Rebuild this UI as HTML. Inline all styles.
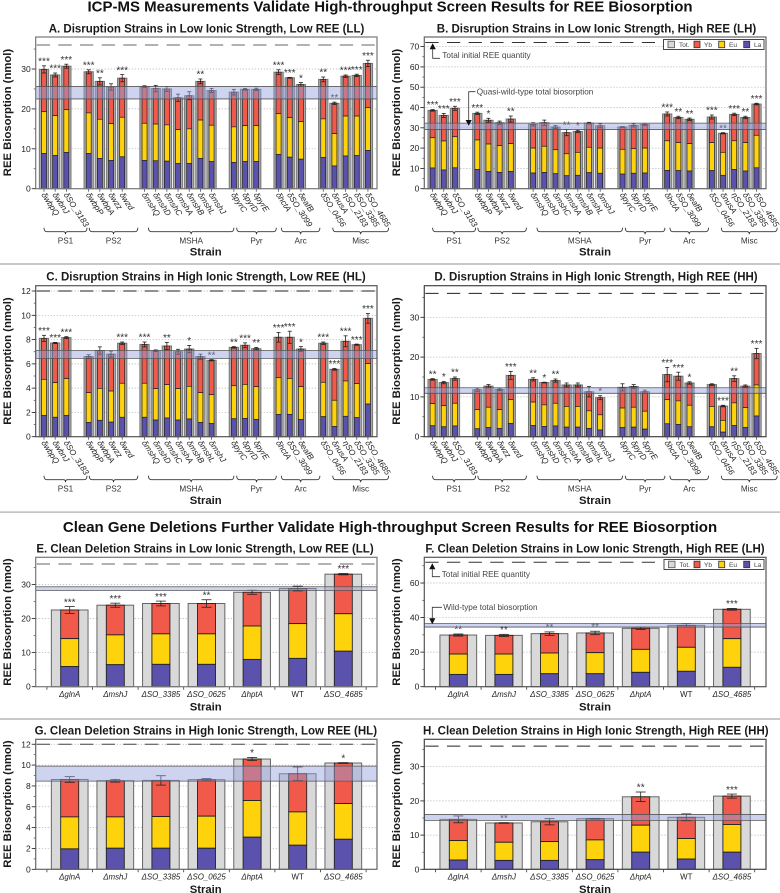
<!DOCTYPE html>
<html lang="en">
<head>
<meta charset="utf-8">
<title>ICP-MS REE Biosorption Panels</title>
<style>
html,body{margin:0;padding:0;background:#fff;width:780px;height:893px;overflow:hidden}
svg{display:block;font-family:"Liberation Sans",Arial,sans-serif}
.main{font-size:15px;font-weight:700;fill:#111;text-anchor:middle}
.ptitle{font-size:11.5px;font-weight:700;fill:#1a1a1a;text-anchor:middle}
.ytitle{font-size:11.3px;font-weight:700;fill:#1a1a1a;text-anchor:middle}
.xtitle{font-size:11.3px;font-weight:700;fill:#1a1a1a;text-anchor:middle}
.note{font-size:8.2px;fill:#444}
.leg{font-size:6.5px;fill:#444}
</style>
</head>
<body>
<svg id="figure" width="780" height="893" viewBox="0 0 780 893" xmlns="http://www.w3.org/2000/svg">
  <text class="main" x="390" y="11.3">ICP-MS Measurements Validate High-throughput Screen Results for REE Biosorption</text>
  <text class="main" x="390" y="532">Clean Gene Deletions Further Validate High-throughput Screen Results for REE Biosorption</text>
  <rect x="0" y="263" width="780" height="2" fill="#c8c8c8"/>
  <rect x="0" y="511.5" width="780" height="1.2" fill="#aaa"/>
  <rect x="0" y="718" width="780" height="2" fill="#c8c8c8"/>

  <g id="panel-a">
    <text class="ptitle" x="206.5" y="32.3">A. Disruption Strains in Low Ionic Strength, Low REE (LL)</text>
    <text class="ytitle" transform="translate(10.8,112.5) rotate(-90)">REE Biosorption (nmol)</text>
    <text class="xtitle" x="205.7" y="255.5">Strain</text>
  </g>
  <g id="panel-b">
    <text class="ptitle" x="596.5" y="32.3">B. Disruption Strains in Low Ionic Strength, High REE (LH)</text>
    <text class="ytitle" transform="translate(399.8,112.5) rotate(-90)">REE Biosorption (nmol)</text>
    <text class="xtitle" x="595" y="255.5">Strain</text>
  </g>
  <g id="panel-c">
    <text class="ptitle" x="206" y="280.7">C. Disruption Strains in High Ionic Strength, Low REE (HL)</text>
    <text class="ytitle" transform="translate(10.8,361) rotate(-90)">REE Biosorption (nmol)</text>
    <text class="xtitle" x="205.7" y="504">Strain</text>
  </g>
  <g id="panel-d">
    <text class="ptitle" x="596" y="280.7">D. Disruption Strains in High Ionic Strength, High REE (HH)</text>
    <text class="ytitle" transform="translate(399.8,361) rotate(-90)">REE Biosorption (nmol)</text>
    <text class="xtitle" x="595" y="504">Strain</text>
  </g>
  <g id="panel-e">
    <text class="ptitle" x="205" y="552.3">E. Clean Deletion Strains in Low Ionic Strength, Low REE (LL)</text>
    <text class="ytitle" transform="translate(10.8,622) rotate(-90)">REE Biosorption (nmol)</text>
    <text class="xtitle" x="205.7" y="710.7">Strain</text>
  </g>
  <g id="panel-f">
    <text class="ptitle" x="595" y="552.3">F. Clean Deletion Strains in Low Ionic Strength, High REE (LH)</text>
    <text class="ytitle" transform="translate(399.8,622) rotate(-90)">REE Biosorption (nmol)</text>
    <text class="xtitle" x="595" y="710.7">Strain</text>
  </g>
  <g id="panel-g">
    <text class="ptitle" x="205.8" y="734.7">G. Clean Deletion Strains in High Ionic Strength, Low REE (HL)</text>
    <text class="ytitle" transform="translate(10.8,804) rotate(-90)">REE Biosorption (nmol)</text>
    <text class="xtitle" x="205.7" y="893">Strain</text>
  </g>
  <g id="panel-h">
    <text class="ptitle" x="595.8" y="734.7">H. Clean Deletion Strains in High Ionic Strength, High REE (HH)</text>
    <text class="ytitle" transform="translate(399.8,804) rotate(-90)">REE Biosorption (nmol)</text>
    <text class="xtitle" x="595" y="893">Strain</text>
  </g>

  <g id="annotations">
    <g>
      <rect x="663.5" y="39.5" width="100.5" height="10" fill="#fff" stroke="#333" stroke-width="0.9"/>
      <rect x="668" y="41.2" width="6.5" height="6.5" fill="#d9d9d9" stroke="#555" stroke-width="0.8"/>
      <text class="leg" x="679" y="46.8">Tot.</text>
      <rect x="694" y="41.2" width="6" height="6.5" fill="#f15a4a" stroke="#333" stroke-width="0.8"/>
      <text class="leg" x="704" y="46.8">Yb</text>
      <rect x="718.7" y="41.2" width="6" height="6.5" fill="#ffd30c" stroke="#333" stroke-width="0.8"/>
      <text class="leg" x="729" y="46.8">Eu</text>
      <rect x="743.7" y="41.2" width="6" height="6.5" fill="#5b52ad" stroke="#333" stroke-width="0.8"/>
      <text class="leg" x="754" y="46.8">La</text>
    </g>
    <g>
      <rect x="664" y="559.5" width="100" height="10" fill="#fff" stroke="#333" stroke-width="0.9"/>
      <rect x="668.5" y="561.2" width="6.5" height="6.5" fill="#d9d9d9" stroke="#555" stroke-width="0.8"/>
      <text class="leg" x="679.5" y="566.8">Tot.</text>
      <rect x="694" y="561.2" width="6" height="6.5" fill="#f15a4a" stroke="#333" stroke-width="0.8"/>
      <text class="leg" x="704" y="566.8">Yb</text>
      <rect x="718.7" y="561.2" width="6" height="6.5" fill="#ffd30c" stroke="#333" stroke-width="0.8"/>
      <text class="leg" x="729" y="566.8">Eu</text>
      <rect x="743.7" y="561.2" width="6" height="6.5" fill="#5b52ad" stroke="#333" stroke-width="0.8"/>
      <text class="leg" x="754" y="566.8">La</text>
    </g>
    <polygon points="432.7,43.3 429.6,49.2 435.8,49.2" fill="#111"/>
    <polyline points="432.7,49 432.7,58.3 440,58.3" fill="none" stroke="#333" stroke-width="0.8"/>
    <text class="note" x="442.3" y="58">Total initial REE quantity</text>
    <polyline points="475.5,91.7 468.7,91.7 468.7,120.5" fill="none" stroke="#333" stroke-width="0.8"/>
    <polygon points="468.7,125.8 465.6,120 471.8,120" fill="#111"/>
    <text class="note" x="476.8" y="94.6">Quasi-wild-type total biosorption</text>
    <polygon points="432.3,563.3 429.2,569.2 435.4,569.2" fill="#111"/>
    <polyline points="432.3,569 432.3,576.7 440,576.7" fill="none" stroke="#333" stroke-width="0.8"/>
    <text class="note" x="441.7" y="577">Total initial REE quantity</text>
    <polyline points="442,607.3 432.3,607.3 432.3,618.8" fill="none" stroke="#333" stroke-width="0.8"/>
    <polygon points="432.3,624.2 429.2,618.3 435.4,618.3" fill="#111"/>
    <text class="note" x="443.3" y="610.2">Wild-type total biosorption</text>
  </g>
</svg>

<script>
// ---------- Categories ----------
const groupNames = ['PS1', 'PS2', 'MSHA', 'Pyr', 'Arc', 'Misc'];
const groupSizes = [3, 4, 7, 3, 3, 5];
const strainLabels = ['δwbpQ','δwbnJ','δSO_3183','δwbpP','δwbpA','δwzz','δwzd','δmshQ','δmshD','δmshC','δmshA','δmshB','δmshL','δmshJ','δpyrC','δpyrD','δpyrE','δhctA','δSO_3099','δeafB','δSO_0456','δnusA','ηSO_2183','δSO_3385','δSO_4685'];
const cleanLabels = ['ΔglnA','ΔmshJ','ΔSO_3385','ΔSO_0625','ΔhptA','WT','ΔSO_4685'];

// ---------- Panel A (LL) ----------
const laA = [8.85,8.35,9.1,8.8,7.6,7.1,8.0,7.1,7.0,6.9,6.3,6.35,7.6,6.8,6.6,6.85,6.85,8.6,7.9,7.4,7.85,5.7,8.2,8.3,9.6];
const laEuA = [19.3,18.3,19.8,19.0,17.4,16.3,17.9,16.4,16.2,16.0,14.8,15.0,17.2,15.9,15.5,15.8,15.8,18.8,17.8,16.8,17.5,13.8,18.2,18.2,20.3];
const totalA = [29.9,28.5,30.7,29.3,26.9,25.5,27.7,25.6,25.1,25.0,22.8,23.3,26.9,24.6,24.2,24.9,24.9,29.2,27.8,26.1,27.4,21.4,28.2,28.4,31.4];
const errA = [0.9,0.5,0.5,0.5,0.9,0.8,0.9,0.2,0.8,0.6,0.9,1.0,0.6,0.5,0.7,0.2,0.3,0.6,0.1,0.5,0.6,0.3,0.3,0.3,0.8];
const starsA = ['***','***','***','***','**','','***','','','','','','**','','','','','***','***','*','**','**','***','***','***'];
const bandA = [22.5, 25.6];
const yTicksA = [0, 10, 20, 30];

// ---------- Panel B (LH) ----------
const laB = [10.2,9.2,10.3,9.5,8.5,8.0,8.5,7.7,8.0,7.4,6.4,6.6,7.9,7.6,7.2,7.6,7.7,9.0,8.9,8.7,8.9,6.6,9.5,8.7,10.3];
const laEuB = [25.1,23.5,25.6,24.0,22.0,21.2,22.2,20.0,20.9,19.2,17.2,17.9,20.4,20.0,19.4,19.7,20.0,23.6,22.7,22.2,22.7,17.9,23.6,22.7,26.3];
const totalB = [38.6,36.1,39.6,37.1,33.7,32.5,34.3,31.7,32.5,30.4,27.6,28.2,32.3,31.0,30.4,31.2,31.7,36.8,35.1,34.2,35.3,27.3,36.6,35.1,41.7];
const errB = [0.4,1.0,1.0,0.6,1.0,0.8,1.5,0.8,1.3,0.7,1.5,0.6,0.4,1.0,0.2,0.8,0.5,1.0,0.6,0.6,1.0,0.3,0.6,0.6,0.4];
const starsB = ['***','***','***','***','*','','**','','','','**','*','','','','','','***','**','**','***','**','***','**','***'];
const bandB = [29.2, 32.3];
const yTicksB = [0, 10, 20, 30, 40, 50, 60, 70];

// ---------- Panel C (HL) ----------
const laC = [1.76,1.6,1.76,1.18,1.35,1.2,1.6,1.6,1.37,1.54,1.37,1.46,1.18,1.1,1.48,1.51,1.43,1.84,1.84,1.43,1.65,0.85,1.68,1.57,2.69];
const laEuC = [4.72,4.45,4.78,3.63,3.98,3.76,4.4,4.4,3.96,4.29,3.96,4.15,3.63,3.46,4.2,4.31,4.12,4.86,4.8,4.12,4.48,3.0,4.59,4.37,6.02];
const totalC = [8.1,7.72,8.16,6.6,7.1,6.8,7.7,7.6,7.08,7.47,7.0,7.22,6.6,6.3,7.36,7.53,7.25,8.19,8.19,7.22,7.7,5.55,7.86,7.58,9.75];
const errC = [0.25,0.05,0.08,0.15,0.3,0.25,0.1,0.2,0.07,0.3,0.2,0.3,0.2,0.05,0.06,0.2,0.1,0.4,0.5,0.2,0.1,0.07,0.45,0.05,0.4];
const starsC = ['***','***','***','','','','***','***','','**','','*','','**','**','***','**','***','***','*','***','***','***','***','***'];
const bandC = [6.45, 7.1];
const yTicksC = [0, 2, 4, 6, 8, 10, 12];

// ---------- Panel D (HH) ----------
const laD = [2.76,2.5,2.7,2.0,2.3,2.1,3.35,2.85,2.6,2.7,2.4,2.4,2.1,1.7,2.35,2.4,1.9,3.25,3.1,2.5,2.5,1.15,2.85,2.3,5.2];
const laEuD = [8.3,7.8,8.4,6.8,7.4,6.8,9.3,8.7,8.0,8.4,7.6,7.6,6.5,5.5,7.2,7.4,6.4,9.3,9.0,7.9,7.6,4.1,8.5,7.3,13.0];
const totalD = [14.4,13.6,14.6,11.8,12.7,11.9,15.4,14.4,13.6,14.1,13.0,13.0,11.3,9.8,12.4,12.6,11.3,15.6,15.2,13.5,13.1,7.7,14.6,12.7,20.9];
const errD = [0.2,0.3,0.4,0.4,0.4,0.3,1.0,0.4,0.1,0.4,0.5,0.5,1.3,0.5,0.9,0.5,0.4,1.8,1.0,0.3,0.2,0.2,0.7,0.3,1.3];
const starsD = ['**','*','**','','','','***','**','*','**','','','','*','','','','***','***','*','','***','**','','***'];
const bandD = [10.9, 12.3];
const yTicksD = [0, 10, 20, 30];

// ---------- Panel E (clean LL) ----------
const laE = [5.9,6.45,6.55,6.55,8.0,8.3,10.4];
const laEuE = [14.1,15.2,15.5,15.5,17.8,18.5,21.4];
const totalE = [22.5,23.9,24.4,24.4,27.7,28.8,33.0];
const errE = [1.0,0.6,0.7,1.1,0.6,0.7,0.2];
const starsE = ['***','***','***','**','','','***'];
const bandE = [28.25, 29.3];
const yTicksE = [0, 10, 20, 30];

// ---------- Panel F (clean LH) ----------
const laF = [7.1,7.1,7.5,7.5,8.3,8.9,11.2];
const laEuF = [18.9,18.9,19.5,19.7,21.6,22.8,27.8];
const totalF = [29.9,29.7,30.7,31.1,33.8,35.5,44.8];
const errF = [0.6,0.6,1.0,1.0,0.7,1.0,0.5];
const starsF = ['**','**','**','**','','','***'];
const bandF = [34.5, 36.5];
const yTicksF = [0, 20, 40, 60];

// ---------- Panel G (clean HL) ----------
const laG = [1.96,2.02,2.02,2.02,3.08,2.31,2.88];
const laEuG = [5.03,5.03,5.06,5.1,6.6,5.51,6.31];
const totalG = [8.62,8.5,8.53,8.6,10.58,9.17,10.2];
const errG = [0.27,0.13,0.45,0.1,0.15,0.65,0.04];
const starsG = ['','','','','*','','*'];
const bandG = [8.46, 9.9];
const yTicksG = [0, 2, 4, 6, 8, 10, 12];

// ---------- Panel H (clean HH) ----------
const laH = [2.7,2.6,2.6,2.8,5.0,3.0,5.0];
const laEuH = [8.4,7.9,8.1,8.6,12.9,9.0,13.1];
const totalH = [14.6,13.55,13.9,14.8,21.2,15.2,21.4];
const errH = [1.0,0.1,0.9,0.1,1.4,1.0,0.6];
const starsH = ['','**','','','**','','***'];
const bandH = [14.3, 16.0];
const yTicksH = [0, 10, 20, 30];

// ---------- Initial quantity ----------
const initialA = 36;
const initialB = 72;
const initialC = 12;
const initialD = 36;
const initialE = 36;
const initialF = 72;
const initialG = 12;
const initialH = 36;

// ---------- Drawing ----------
const NS = 'http://www.w3.org/2000/svg';
const COLORS = {la: '#5b52ad', eu: '#ffd30c', yb: '#f15a4a', total: '#d9d9d9'};

function mk(parent, tag, attrs, text) {
  const el = document.createElementNS(NS, tag);
  for (const k in attrs) el.setAttribute(k, attrs[k]);
  if (text !== undefined) el.textContent = text;
  parent.appendChild(el);
  return el;
}

function drawFrameAndAxes(g, p, y) {
  const grid = mk(g, 'g', {});
  
  
  p.yTicks.forEach(function (t) {
    if (t === 0) return;
    const ln = mk(grid, 'line', {x1: p.left, x2: p.right, y1: y(t), y2: y(t), stroke: '#aaa', 'stroke-width': 0.7, 'stroke-dasharray': '1.2 1.8'});
    
    
  });
}

function drawYTicks(g, p, y) {
  const axis = mk(g, 'g', {});
  
  
  const minor = (p.yTicks[1] - p.yTicks[0]) / 2;
  const maxV = (p.bottom - p.top) / p.k;
  for (let v = 0; v <= maxV; v += minor) {
    const m = mk(axis, 'line', {x1: p.left - 2, x2: p.left, y1: y(v), y2: y(v), stroke: '#444', 'stroke-width': 0.7});
    
    
  }
  p.yTicks.forEach(function (t) {
    const ln = mk(axis, 'line', {x1: p.left - 4, x2: p.left, y1: y(t), y2: y(t), stroke: '#222', 'stroke-width': 0.8});
    
    
    const lb = mk(axis, 'text', {x: p.left - 5, y: y(t) + 3, 'text-anchor': 'end', 'font-size': 8.5, fill: '#222'}, String(t));
    
    
  });
}

function drawOverlay(g, p, y) {
  const band = mk(g, 'rect', {x: p.left, width: p.right - p.left, y: y(p.band[1]), height: y(p.band[0]) - y(p.band[1]), fill: 'rgba(147,160,222,0.45)', stroke: 'none'});
  
  
  const bandTop = mk(g, 'line', {x1: p.left, x2: p.right, y1: y(p.band[1]), y2: y(p.band[1]), stroke: '#555', 'stroke-width': 0.8});
  
  
  const bandBot = mk(g, 'line', {x1: p.left, x2: p.right, y1: y(p.band[0]), y2: y(p.band[0]), stroke: '#555', 'stroke-width': 0.8});
  
  
  const dash = mk(g, 'line', {x1: p.left + 1, x2: p.dashEnd || p.right - 1, y1: y(p.initial), y2: y(p.initial), stroke: p.dashColor, 'stroke-width': 1, 'stroke-dasharray': '13.3 8.35'});
  
  
  const frame = mk(g, 'rect', {x: p.left, y: p.top, width: p.right - p.left, height: p.bottom - p.top, fill: 'none', stroke: p.frameColor, 'stroke-width': 1.2});
  
  
}

function drawBars(g, p, x, y, labels, outerW, innerW, capW, outerStroke, outerFill, innerSW) {
  labels.forEach(function (lab, i) {
    const cx = x(i);
    const b0 = y(0);
    const bar = mk(g, 'g', {});
    
    
    const outer = mk(bar, 'rect', {x: cx - outerW / 2, width: outerW, y: y(p.total[i]), height: b0 - y(p.total[i]), fill: outerFill, stroke: outerStroke, 'stroke-width': 1});
    
    
    const yb = mk(bar, 'rect', {x: cx - innerW / 2, width: innerW, y: y(p.total[i]), height: y(p.laEu[i]) - y(p.total[i]), fill: COLORS.yb, stroke: '#222', 'stroke-width': innerSW});
    
    
    const eu = mk(bar, 'rect', {x: cx - innerW / 2, width: innerW, y: y(p.laEu[i]), height: y(p.la[i]) - y(p.laEu[i]), fill: COLORS.eu, stroke: '#222', 'stroke-width': innerSW});
    
    
    const la = mk(bar, 'rect', {x: cx - innerW / 2, width: innerW, y: y(p.la[i]), height: b0 - y(p.la[i]), fill: COLORS.la, stroke: '#222', 'stroke-width': innerSW});
    
    
    const hi = y(p.total[i] + p.err[i]);
    const lo = y(p.total[i] - p.err[i]);
    const stem = mk(bar, 'line', {x1: cx, x2: cx, y1: hi, y2: lo, stroke: '#222', 'stroke-width': 0.8});
    
    
    const capT = mk(bar, 'line', {x1: cx - capW / 2, x2: cx + capW / 2, y1: hi, y2: hi, stroke: '#222', 'stroke-width': 0.8});
    
    
    const capB = mk(bar, 'line', {x1: cx - capW / 2, x2: cx + capW / 2, y1: lo, y2: lo, stroke: '#222', 'stroke-width': 0.8});
    
    
    if (p.stars[i]) {
      const st = mk(bar, 'text', {x: cx, y: hi - 1.3, 'text-anchor': 'middle', 'font-size': 10, fill: '#333'}, p.stars[i]);
      
      
    }
  });
}

function drawDisruption(p) {
  const g = document.getElementById(p.id);
  const y = function (v) { return p.bottom - v * p.k; };
  const slots = [];
  let s = 0;
  groupSizes.forEach(function (n) {
    for (let j = 0; j < n; j++) slots.push(s + j);
    s += n + 1;
  });
  const slotX = function (v) { return p.left + 8.3 + 11.17 * v; };
  const x = function (i) { return slotX(slots[i]); };
  drawFrameAndAxes(g, p, y);
  drawBars(g, p, x, y, strainLabels, 9.3, 5, 4, '#777', '#aaaaaa', 0.7);
  strainLabels.forEach(function (lab, i) {
    const tk = mk(g, 'line', {x1: x(i), x2: x(i), y1: p.bottom, y2: p.bottom + 3, stroke: '#333', 'stroke-width': 0.7});
    
    
    const tx = mk(g, 'text', {transform: 'translate(' + (x(i) - 3) + ',' + (p.bottom + 6) + ') rotate(57)', 'font-size': 8.2, 'font-style': 'italic', fill: '#222'}, lab);
    
    
  });
  const braceStart = [0, 4.05, 9.35, 17.25, 21.25, 25.85];
  const braceEnd = [3.85, 8.4, 17, 20.8, 24.7, 30.85];
  groupNames.forEach(function (name, i) {
    const a = slotX(braceStart[i]);
    const b = slotX(braceEnd[i]);
    const m = (a + b) / 2;
    const top = p.bottom + 39;
    const mid = top + 4;
    const d = 'M' + a + ' ' + top + ' Q' + a + ' ' + mid + ' ' + (a + 3) + ' ' + mid + ' L' + (m - 2) + ' ' + mid + ' Q' + m + ' ' + mid + ' ' + m + ' ' + (mid + 2.5) + ' Q' + m + ' ' + mid + ' ' + (m + 2) + ' ' + mid + ' L' + (b - 3) + ' ' + mid + ' Q' + b + ' ' + mid + ' ' + b + ' ' + top;
    const br = mk(g, 'path', {d: d, fill: 'none', stroke: '#333', 'stroke-width': 0.9});
    
    
    const tx = mk(g, 'text', {x: m, y: p.bottom + 55, 'text-anchor': 'middle', 'font-size': 8.2, fill: '#333'}, name);
    
    
  });
  drawYTicks(g, p, y);
  drawOverlay(g, p, y);
}

function drawClean(p) {
  const g = document.getElementById(p.id);
  const y = function (v) { return p.bottom - v * p.k; };
  const x = function (i) { return p.left + 34 + 45.6 * i; };
  drawFrameAndAxes(g, p, y);
  drawBars(g, p, x, y, cleanLabels, 36.7, 18, 10, '#666', COLORS.total, 0.9);
  for (let i = 0; i <= cleanLabels.length; i++) {
    const tk = mk(g, 'line', {x1: x(i - 0.5), x2: x(i - 0.5), y1: p.bottom, y2: p.bottom + 3, stroke: '#333', 'stroke-width': 0.8});
    
    
  }
  cleanLabels.forEach(function (lab, i) {
    const tx = mk(g, 'text', {x: x(i), y: p.bottom + 10.2, 'text-anchor': 'middle', 'font-size': 7.9, 'font-style': lab === 'WT' ? 'normal' : 'italic', fill: '#222'}, lab);
    
    
  });
  drawYTicks(g, p, y);
  drawOverlay(g, p, y);
}

const LEFT_L = 35.7, RIGHT_L = 377, LEFT_R = 424.3, RIGHT_R = 766;

drawDisruption({key: 'panel-a', id: 'panel-a', left: LEFT_L, right: RIGHT_L, top: 37, bottom: 188.7, k: 3.99, la: laA, laEu: laEuA, total: totalA, err: errA, stars: starsA, band: bandA, yTicks: yTicksA, initial: initialA, dashColor: '#666', frameColor: '#777'});
drawDisruption({key: 'panel-b', id: 'panel-b', left: LEFT_R, right: RIGHT_R, top: 37, bottom: 188.7, k: 2.03, la: laB, laEu: laEuB, total: totalB, err: errB, stars: starsB, band: bandB, yTicks: yTicksB, initial: initialB, dashColor: '#333', frameColor: '#666', dashEnd: 655});
drawDisruption({key: 'panel-c', id: 'panel-c', left: LEFT_L, right: RIGHT_L, top: 285.7, bottom: 436.7, k: 12.14, la: laC, laEu: laEuC, total: totalC, err: errC, stars: starsC, band: bandC, yTicks: yTicksC, initial: initialC, dashColor: '#222', frameColor: '#555'});
drawDisruption({key: 'panel-d', id: 'panel-d', left: LEFT_R, right: RIGHT_R, top: 285.7, bottom: 436.7, k: 3.98, la: laD, laEu: laEuD, total: totalD, err: errD, stars: starsD, band: bandD, yTicks: yTicksD, initial: initialD, dashColor: '#222', frameColor: '#444'});
drawClean({key: 'panel-e', id: 'panel-e', left: LEFT_L, right: RIGHT_L, top: 557.3, bottom: 686.7, k: 3.41, la: laE, laEu: laEuE, total: totalE, err: errE, stars: starsE, band: bandE, yTicks: yTicksE, initial: initialE, dashColor: '#666', frameColor: '#777'});
drawClean({key: 'panel-f', id: 'panel-f', left: LEFT_R, right: RIGHT_R, top: 557.3, bottom: 686.7, k: 1.728, la: laF, laEu: laEuF, total: totalF, err: errF, stars: starsF, band: bandF, yTicks: yTicksF, initial: initialF, dashColor: '#333', frameColor: '#555', dashEnd: 655});
drawClean({key: 'panel-g', id: 'panel-g', left: LEFT_L, right: RIGHT_L, top: 739.3, bottom: 869.3, k: 10.42, la: laG, laEu: laEuG, total: totalG, err: errG, stars: starsG, band: bandG, yTicks: yTicksG, initial: initialG, dashColor: '#444', frameColor: '#666'});
drawClean({key: 'panel-h', id: 'panel-h', left: LEFT_R, right: RIGHT_R, top: 739.3, bottom: 869.3, k: 3.42, la: laH, laEu: laEuH, total: totalH, err: errH, stars: starsH, band: bandH, yTicks: yTicksH, initial: initialH, dashColor: '#222', frameColor: '#444'});

// keep arrows and legends above the plot content
const figureSvg = document.getElementById('figure');
figureSvg.appendChild(document.getElementById('annotations'));
</script>
</body>
</html>
